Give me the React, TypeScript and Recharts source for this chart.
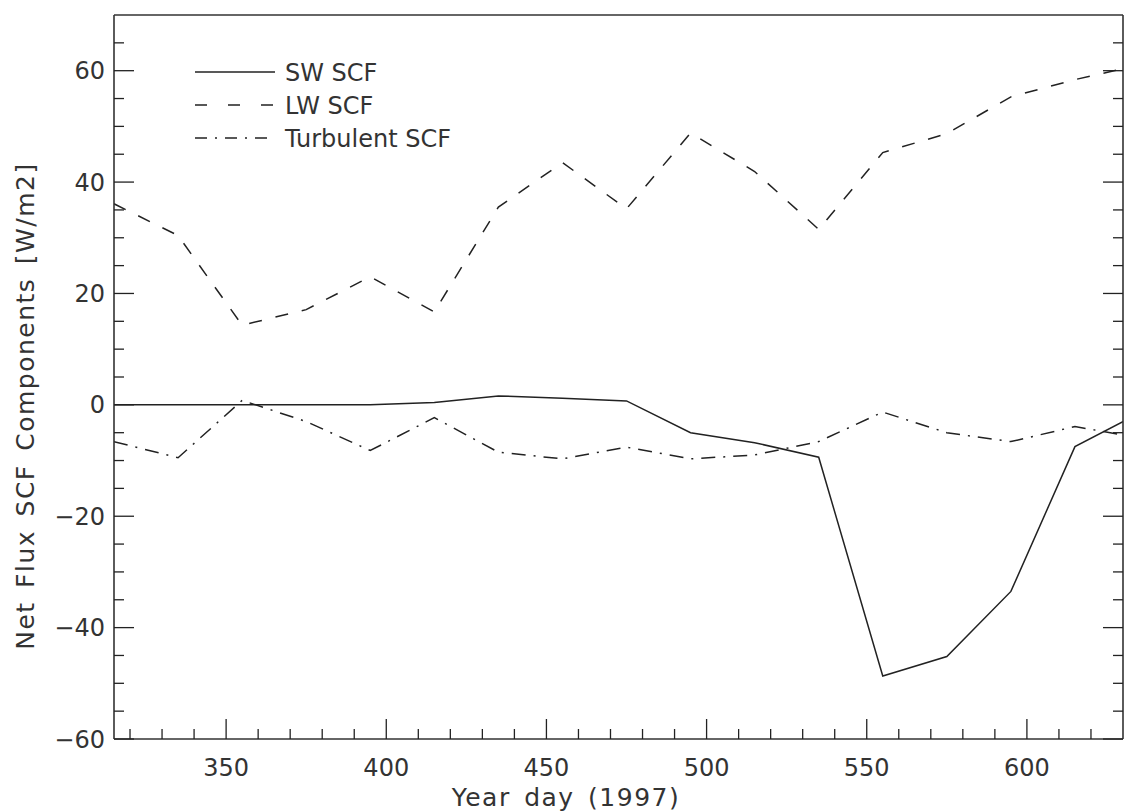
import { LineChart, Line, XAxis, YAxis, Legend } from "recharts";

// year day of each sample (last one falls just past the right edge)
const days = [315, 335, 355, 375, 395, 415, 435, 455, 475, 495, 515, 535, 555, 575, 595, 615, 635];
const swScf = [0, 0, 0, 0, 0, 0.4, 1.6, 1.2, 0.7, -5.0, -6.8, -9.4, -48.7, -45.2, -33.5, -7.5, -1.5];
const lwScf = [36.1, 30.4, 14.3, 17.1, 23.0, 16.7, 35.5, 43.5, 35.2, 48.8, 41.9, 31.5, 45.3, 48.7, 55.3, 58.4, 61.0];
const turbScf = [-6.6, -9.5, 0.8, -3.0, -8.2, -2.3, -8.5, -9.7, -7.6, -9.7, -9.0, -6.6, -1.3, -5.0, -6.6, -3.9, -5.9];

const xTicks = [
  320, 330, 340, 350, 360, 370, 380, 390, 400, 410, 420, 430, 440, 450, 460, 470,
  480, 490, 500, 510, 520, 530, 540, 550, 560, 570, 580, 590, 600, 610, 620,
];
const yTicks = [
  -60, -55, -50, -45, -40, -35, -30, -25, -20, -15, -10, -5, 0, 5, 10, 15, 20,
  25, 30, 35, 40, 45, 50, 55, 60, 65,
];

const data = days.map((d, i) => ({
  day: d,
  sw: swScf[i],
  lw: lwScf[i],
  turb: turbScf[i],
}));

const INK = "#222";
const TXT = "#333";
const FONT = "'DejaVu Sans', sans-serif";
const DASH = "13 14";
const DASHDOT = "14 8 2 8";

const fmt = (v: number) => (v < 0 ? `\u2212${Math.abs(v)}` : `${v}`);

function BottomTick({ x, y, payload }: any) {
  const v = payload.value;
  const major = v % 50 === 0;
  return (
    <g>
      <line x1={x} x2={x} y1={y} y2={y - (major ? 20 : 10)} stroke={INK} strokeWidth={1.3} />
      {major && (
        <text x={x} y={y + 28} dy="0.36em" textAnchor="middle" fontSize={24} fill={TXT} fontFamily={FONT}>
          {v}
        </text>
      )}
    </g>
  );
}

function TopTick({ x, y, payload }: any) {
  const major = payload.value % 50 === 0;
  return <line x1={x} x2={x} y1={y} y2={y + (major ? 20 : 10)} stroke={INK} strokeWidth={1.3} />;
}

function LeftTick({ x, y, payload }: any) {
  const v = payload.value;
  const major = v % 20 === 0;
  return (
    <g>
      <line x1={x} x2={x + (major ? 20 : 10)} y1={y} y2={y} stroke={INK} strokeWidth={1.3} />
      {major && (
        <text x={x - 9} y={y} dy="0.36em" textAnchor="end" fontSize={24} fill={TXT} fontFamily={FONT}>
          {fmt(v)}
        </text>
      )}
    </g>
  );
}

function RightTick({ x, y, payload }: any) {
  const major = payload.value % 20 === 0;
  return <line x1={x} x2={x - (major ? 20 : 10)} y1={y} y2={y} stroke={INK} strokeWidth={1.3} />;
}

const legendRows = [
  { name: "SW SCF", dash: undefined },
  { name: "LW SCF", dash: "12 21" },
  { name: "Turbulent SCF", dash: "12 8 2 8" },
];

function LegendBox() {
  return (
    <svg width={380} height={110} style={{ overflow: "visible" }}>
      {legendRows.map((r, i) => (
        <g key={r.name}>
          <line x1={5} x2={85} y1={22 + i * 33} y2={22 + i * 33} stroke={INK} strokeWidth={1.5} strokeDasharray={r.dash} />
          <text x={95} y={22 + i * 33} dy="0.36em" fontSize={24} fill={TXT} fontFamily={FONT}>
            {r.name}
          </text>
        </g>
      ))}
    </svg>
  );
}

const axisLine = { stroke: "#333", strokeWidth: 1.6 };

const titleStyle = {
  position: "absolute" as const,
  fontFamily: FONT,
  fontSize: 25,
  letterSpacing: "1.5px",
  wordSpacing: "4px",
  color: TXT,
  whiteSpace: "nowrap" as const,
};

export default function App() {
  return (
    <div style={{ position: "absolute", left: 0, top: 0, width: 1124, height: 811, background: "#fff" }}>
      <LineChart width={1124} height={811} data={data} margin={{ top: 14, right: 0, bottom: 0, left: 0 }}>
        <XAxis
          xAxisId="b" dataKey="day" type="number" domain={[315, 630]} allowDataOverflow
          ticks={xTicks} interval={0} tickSize={0} tickMargin={0} tickLine={false}
          tick={<BottomTick />} axisLine={axisLine} height={72}
        />
        <XAxis
          xAxisId="t" orientation="top" type="number" domain={[315, 630]} allowDataOverflow
          ticks={xTicks} interval={0} tickSize={0} tickMargin={0} tickLine={false}
          tick={<TopTick />} axisLine={axisLine} height={1}
        />
        <YAxis
          yAxisId="l" type="number" domain={[-60, 70]} allowDataOverflow
          ticks={yTicks} interval={0} tickSize={0} tickMargin={0} tickLine={false}
          tick={<LeftTick />} axisLine={axisLine} width={114}
        />
        <YAxis
          yAxisId="r" orientation="right" type="number" domain={[-60, 70]} allowDataOverflow
          ticks={yTicks} interval={0} tickSize={0} tickMargin={0} tickLine={false}
          tick={<RightTick />} axisLine={axisLine} width={1}
        />
        <Legend
          layout="horizontal" verticalAlign="middle" align="center"
          content={<LegendBox />}
          wrapperStyle={{ position: "absolute", left: 190, top: 50, width: 380, height: 110 }}
        />
        <Line xAxisId="b" yAxisId="l" dataKey="sw" name="SW SCF" type="linear" stroke={INK} strokeWidth={1.5} dot={false} isAnimationActive={false} />
        <Line xAxisId="b" yAxisId="l" dataKey="lw" name="LW SCF" type="linear" stroke={INK} strokeWidth={1.5} strokeDasharray={DASH} dot={false} isAnimationActive={false} />
        <Line xAxisId="b" yAxisId="l" dataKey="turb" name="Turbulent SCF" type="linear" stroke={INK} strokeWidth={1.5} strokeDasharray={DASHDOT} dot={false} isAnimationActive={false} />
      </LineChart>
      <div style={{ ...titleStyle, left: 566, top: 797, transform: "translate(-50%, -50%)" }}>
        Year day (1997)
      </div>
      <div style={{ ...titleStyle, left: 25, top: 406, transform: "translate(-50%, -50%) rotate(-90deg)" }}>
        Net Flux SCF Components [W/m2]
      </div>
    </div>
  );
}
